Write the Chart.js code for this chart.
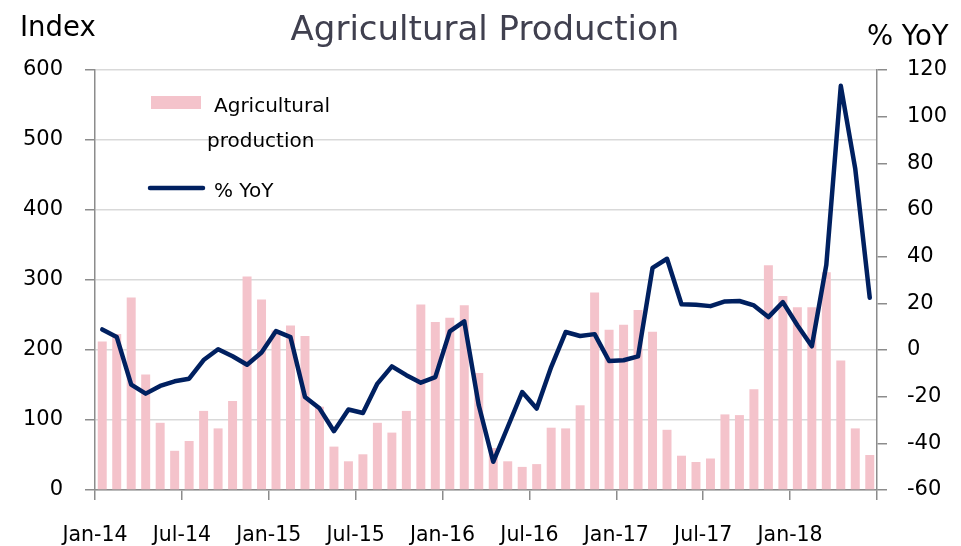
<!DOCTYPE html>
<html><head><meta charset="utf-8">
<script src="https://cdn.jsdelivr.net/npm/chart.js@4/dist/chart.umd.min.js"></script>
<style>html,body{margin:0;padding:0;background:#fff;}#wrap{width:961px;height:546px;}</style>
</head><body><div id="wrap"><canvas id="c" width="961" height="546"></canvas></div>
<script>
const months = ['Jan-14','Feb-14','Mar-14','Apr-14','May-14','Jun-14','Jul-14','Aug-14','Sep-14','Oct-14','Nov-14','Dec-14',
'Jan-15','Feb-15','Mar-15','Apr-15','May-15','Jun-15','Jul-15','Aug-15','Sep-15','Oct-15','Nov-15','Dec-15',
'Jan-16','Feb-16','Mar-16','Apr-16','May-16','Jun-16','Jul-16','Aug-16','Sep-16','Oct-16','Nov-16','Dec-16',
'Jan-17','Feb-17','Mar-17','Apr-17','May-17','Jun-17','Jul-17','Aug-17','Sep-17','Oct-17','Nov-17','Dec-17',
'Jan-18','Feb-18','Mar-18','Apr-18','May-18','Jun-18'];
const xTickLabels = ['Jan-14','Jul-14','Jan-15','Jul-15','Jan-16','Jul-16','Jan-17','Jul-17','Jan-18'];
const production = [212,223,275,165,96,56,70,113,88,127,305,272,
228,235,220,119,62,41,51,96,82,113,265,240,
246,264,167,60,41,33,37,89,88,121,282,229,
236,257,226,86,49,40,45,108,107,144,321,277,
261,261,311,185,88,50];
const yoy = [8.8,5.6,-14.8,-18.7,-15.4,-13.4,-12.3,-4.3,0.3,-2.7,-6.3,-1.1,
8.1,5.5,-20.1,-25,-34.8,-25.5,-27,-14.4,-7,-10.8,-14,-11.6,
8,12.3,-23.7,-47.9,-33,-18,-25.1,-7.3,7.7,6,6.8,-4.7,
-4.4,-2.7,35.2,39.1,19.6,19.4,18.8,20.8,21,19.1,14.1,20.5,
10.6,1.6,36.5,113.2,77.6,22.4];
const leftTicks = {min:0, max:600, step:100};
const rightTicks = {min:-60, max:120, step:20};

const FONT = '"DejaVu Sans", sans-serif';
const BAR_COLOR = '#F4C3CB';
const LINE_COLOR = '#002060';
const AXIS_COLOR = '#8c8c8c';

const deco = {
  id: 'deco',
  afterDraw(chart) {
    const ctx = chart.ctx;
    ctx.save();
    ctx.textBaseline = 'alphabetic';
    ctx.textAlign = 'center';
    ctx.fillStyle = '#40404f';
    ctx.font = '34px ' + FONT;
    ctx.fillText('Agricultural Production', 485, 40);
    ctx.fillStyle = '#000';
    ctx.font = '27.5px ' + FONT;
    ctx.textAlign = 'left';
    ctx.fillText('Index', 20, 36);
    ctx.fillText('% YoY', 867, 45);
    // legend
    const ds = chart.data.datasets;
    ctx.fillStyle = ds[1].backgroundColor;
    ctx.fillRect(151, 96, 50, 13);
    ctx.strokeStyle = ds[0].borderColor;
    ctx.lineWidth = 4.5;
    ctx.lineCap = 'round';
    ctx.beginPath(); ctx.moveTo(150, 188); ctx.lineTo(203, 188); ctx.stroke();
    ctx.fillStyle = '#000';
    ctx.font = '20px ' + FONT;
    ctx.fillText('Agricultural', 214, 112);
    ctx.fillText('production', 207, 147);
    ctx.fillText('% YoY', 214, 197);
    ctx.restore();
  }
};

new Chart(document.getElementById('c'), {
  type: 'bar',
  data: {
    datasets: [
      {
        type: 'line', label: '% YoY', yAxisID: 'y1',
        data: yoy.map((v, i) => ({x: i + 0.5, y: v})),
        borderColor: LINE_COLOR, borderWidth: 4.5, pointRadius: 0, tension: 0,
        borderJoinStyle: 'round', borderCapStyle: 'round', fill: false
      },
      {
        type: 'bar', label: 'Agricultural production', yAxisID: 'y',
        data: production.map((v, i) => ({x: i + 0.5, y: v})),
        backgroundColor: BAR_COLOR, barPercentage: 0.62, categoryPercentage: 1
      }
    ]
  },
  options: {
    responsive: false, animation: false, devicePixelRatio: 1,
    layout: {padding: {top: 70, left: 0, right: 0, bottom: 0}},
    plugins: {legend: {display: false}, tooltip: {enabled: false}, title: {display: false}},
    scales: {
      x: {
        type: 'linear', position: 'bottom', min: 0, max: months.length, offset: false,
        ticks: {stepSize: 6, autoSkip: false, maxRotation: 0, padding: 23, color: '#000',
          font: {family: FONT, size: 20.5},
          callback: (v) => xTickLabels[v / 6] ?? ''},
        grid: {offset: false, drawOnChartArea: false, tickLength: 10, tickColor: AXIS_COLOR, lineWidth: 1.5},
        border: {color: AXIS_COLOR, width: 1.5},
        afterFit: (s) => { s.height = 56; }
      },
      y: {
        position: 'left', min: leftTicks.min, max: leftTicks.max,
        ticks: {stepSize: leftTicks.step, padding: 22, color: '#000', font: {family: FONT, size: 21}},
        grid: {color: '#d9d9d9', lineWidth: 1.5, tickLength: 10, tickColor: AXIS_COLOR},
        border: {color: AXIS_COLOR, width: 1.5},
        afterFit: (s) => { s.width = 95; }
      },
      y1: {
        position: 'right', min: rightTicks.min, max: rightTicks.max,
        ticks: {stepSize: rightTicks.step, padding: 20, color: '#000', font: {family: FONT, size: 21}},
        grid: {drawOnChartArea: false, tickLength: 10, tickColor: AXIS_COLOR, lineWidth: 1.5},
        border: {color: AXIS_COLOR, width: 1.5},
        afterFit: (s) => { s.width = 84; }
      }
    }
  },
  plugins: [deco]
});
</script></body></html>
